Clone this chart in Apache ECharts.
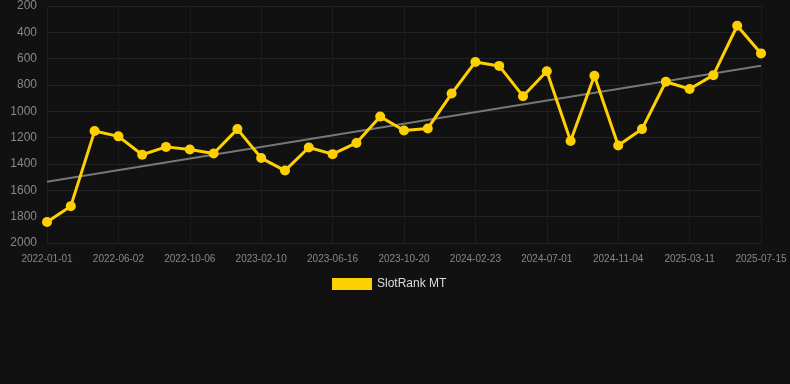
<!DOCTYPE html>
<html>
<head>
<meta charset="utf-8">
<script src="https://cdn.jsdelivr.net/npm/echarts@6/dist/echarts.min.js"></script>
<style>
  html, body { margin: 0; padding: 0; background: #111111; }
  #chart { width: 790px; height: 384px; }
</style>
</head>
<body>
<div id="chart"></div>
<script>
// 日期（类目轴）
var dates = [
	'2022-01-01', '2022-02-20', '2022-04-11', '2022-06-02', '2022-07-14', '2022-08-25',
	'2022-10-06', '2022-11-17', '2022-12-29', '2023-02-10', '2023-03-24', '2023-05-05',
	'2023-06-16', '2023-07-28', '2023-09-08', '2023-10-20', '2023-12-01', '2024-01-12',
	'2024-02-23', '2024-04-05', '2024-05-17', '2024-07-01', '2024-08-12', '2024-09-23',
	'2024-11-04', '2024-12-16', '2025-01-27', '2025-03-11', '2025-04-22', '2025-06-03',
	'2025-07-15'
];
// SlotRank 排名
var rankValues = [
	1840, 1720, 1150, 1190, 1330, 1270,
	1290, 1320, 1135, 1355, 1450, 1275,
	1325, 1240, 1040, 1145, 1130, 865,
	625, 655, 885, 695, 1225, 730,
	1260, 1135, 775, 830, 725, 350,
	560
];
// 趋势线起点和终点
var trendEnds = [1535, 653];
var yTicks = [200, 2000, 200]; // min, max, interval

var fnTrendData = function() {
	var arr = [];
	for (var i = 0; i < dates.length; i++) arr.push(null);
	arr[0] = trendEnds[0];
	arr[dates.length - 1] = trendEnds[1];
	return arr;
};

var chart = echarts.init(document.getElementById('chart'));
var option = {
	backgroundColor: '#111111',
	animation: false,
	grid: {
		left: 47,
		right: 29,
		top: 6,
		bottom: 141
	},
	legend: {
		data: [{ name: 'SlotRank MT', icon: 'rect' }],
		top: 273,
		left: 327,
		itemWidth: 40,
		itemHeight: 12,
		itemGap: 6,
		textStyle: { color: '#dddddd', fontSize: 12, fontFamily: 'Liberation Sans' }
	},
	xAxis: {
		type: 'category',
		boundaryGap: false,
		data: dates,
		axisLine: { show: false },
		axisTick: { show: false },
		axisLabel: {
			interval: 2,
			color: '#888888',
			fontSize: 10,
			margin: 11,
			fontFamily: 'Liberation Sans'
		},
		splitLine: {
			show: true,
			interval: 2,
			lineStyle: { color: '#1c1c1c', width: 1 }
		}
	},
	yAxis: {
		type: 'value',
		inverse: true,
		min: yTicks[0],
		max: yTicks[1],
		interval: yTicks[2],
		axisLine: { show: false },
		axisTick: { show: false },
		axisLabel: {
			color: '#888888',
			fontSize: 12,
			margin: 10,
			fontFamily: 'Liberation Sans',
			formatter: function(v) { return String(v); }
		},
		splitLine: { lineStyle: { color: '#222222', width: 1 } }
	},
	series: [{
		name: 'SlotRank MT',
		type: 'line',
		data: rankValues,
		symbol: 'circle',
		symbolSize: 10,
		itemStyle: { color: '#FFD000' },
		lineStyle: { color: '#FFD000', width: 3 },
		z: 3
	}, {
		name: 'trend',
		type: 'line',
		data: fnTrendData(),
		connectNulls: true,
		symbol: 'none',
		lineStyle: { color: '#777777', width: 2 },
		z: 2
	}]
};
chart.setOption(option);
</script>
</body>
</html>
